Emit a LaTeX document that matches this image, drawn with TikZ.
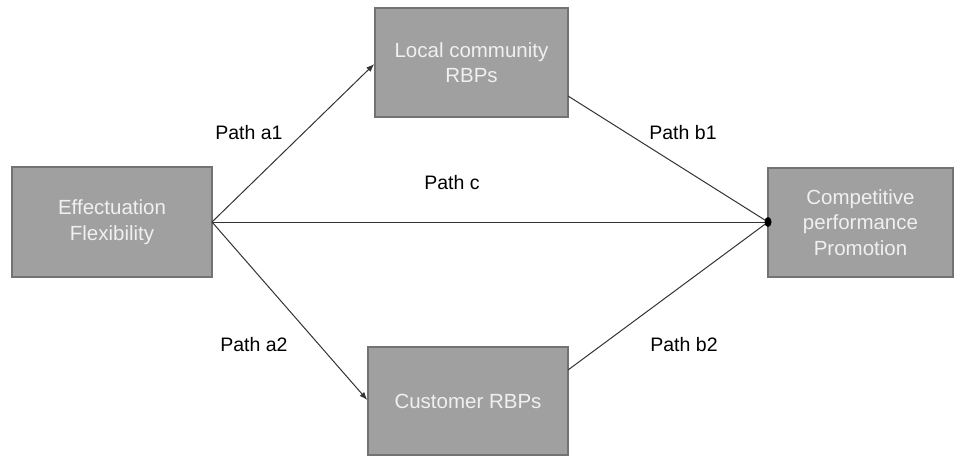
\documentclass[tikz,border=0pt]{standalone}
\usepackage{fontspec}
\setmainfont{Liberation Sans}
\usetikzlibrary{arrows.meta}
\definecolor{boxfill}{HTML}{A0A0A0}
\definecolor{boxline}{HTML}{737373}
\definecolor{boxtext}{HTML}{F0F0F0}
\begin{document}
\begin{tikzpicture}[x=1pt,y=-1pt,
  var/.style={draw=boxline, line width=1.5pt, fill=boxfill, text=boxtext, align=center,
    font=\fontsize{20.5}{25.5}\selectfont, inner sep=0pt},
  lab/.style={font=\fontsize{19.5}{23}\selectfont, text=black},
  conn/.style={draw=black!80, line width=1pt},
  arr/.style={conn, -{Latex[length=8pt,width=6pt]}}]
\useasboundingbox (0,0) rectangle (963,457);
\node[var, minimum width=200pt, minimum height=110pt] (ef) at (112,222) {Effectuation\\Flexibility};
\node[var, minimum width=193pt, minimum height=109pt] (lc) at (471.5,62.5) {Local community\\RBPs};
\node[var, minimum width=200pt, minimum height=108pt] (cu) at (468,401) {Customer RBPs};
\node[var, minimum width=185pt, minimum height=109pt] (cp) at (860.5,222.5) {Competitive\\performance\\Promotion};
\coordinate (efr) at (212,222);
\coordinate (cpl) at (768,222);
\coordinate (lcr) at (568,96);
\coordinate (cur) at (568,370);
\draw[arr] (efr) -- (lc.west |- 0,64);
\draw[arr] (efr) -- (cu.west |- 0,400);
\draw[conn] (efr) -- (cpl);
\draw[conn] (lcr) -- (cpl);
\draw[conn] (cur) -- (cpl);
\fill[black] (cpl) ellipse (3.5pt and 5pt);
\node[lab] (pa1) at (249,133) {Path a1};
\node[lab] (pb1) at (683,133) {Path b1};
\node[lab] (pc) at (452,183) {Path c};
\node[lab] (pa2) at (254,345) {Path a2};
\node[lab] (pb2) at (684,345) {Path b2};
\end{tikzpicture}
\end{document}
